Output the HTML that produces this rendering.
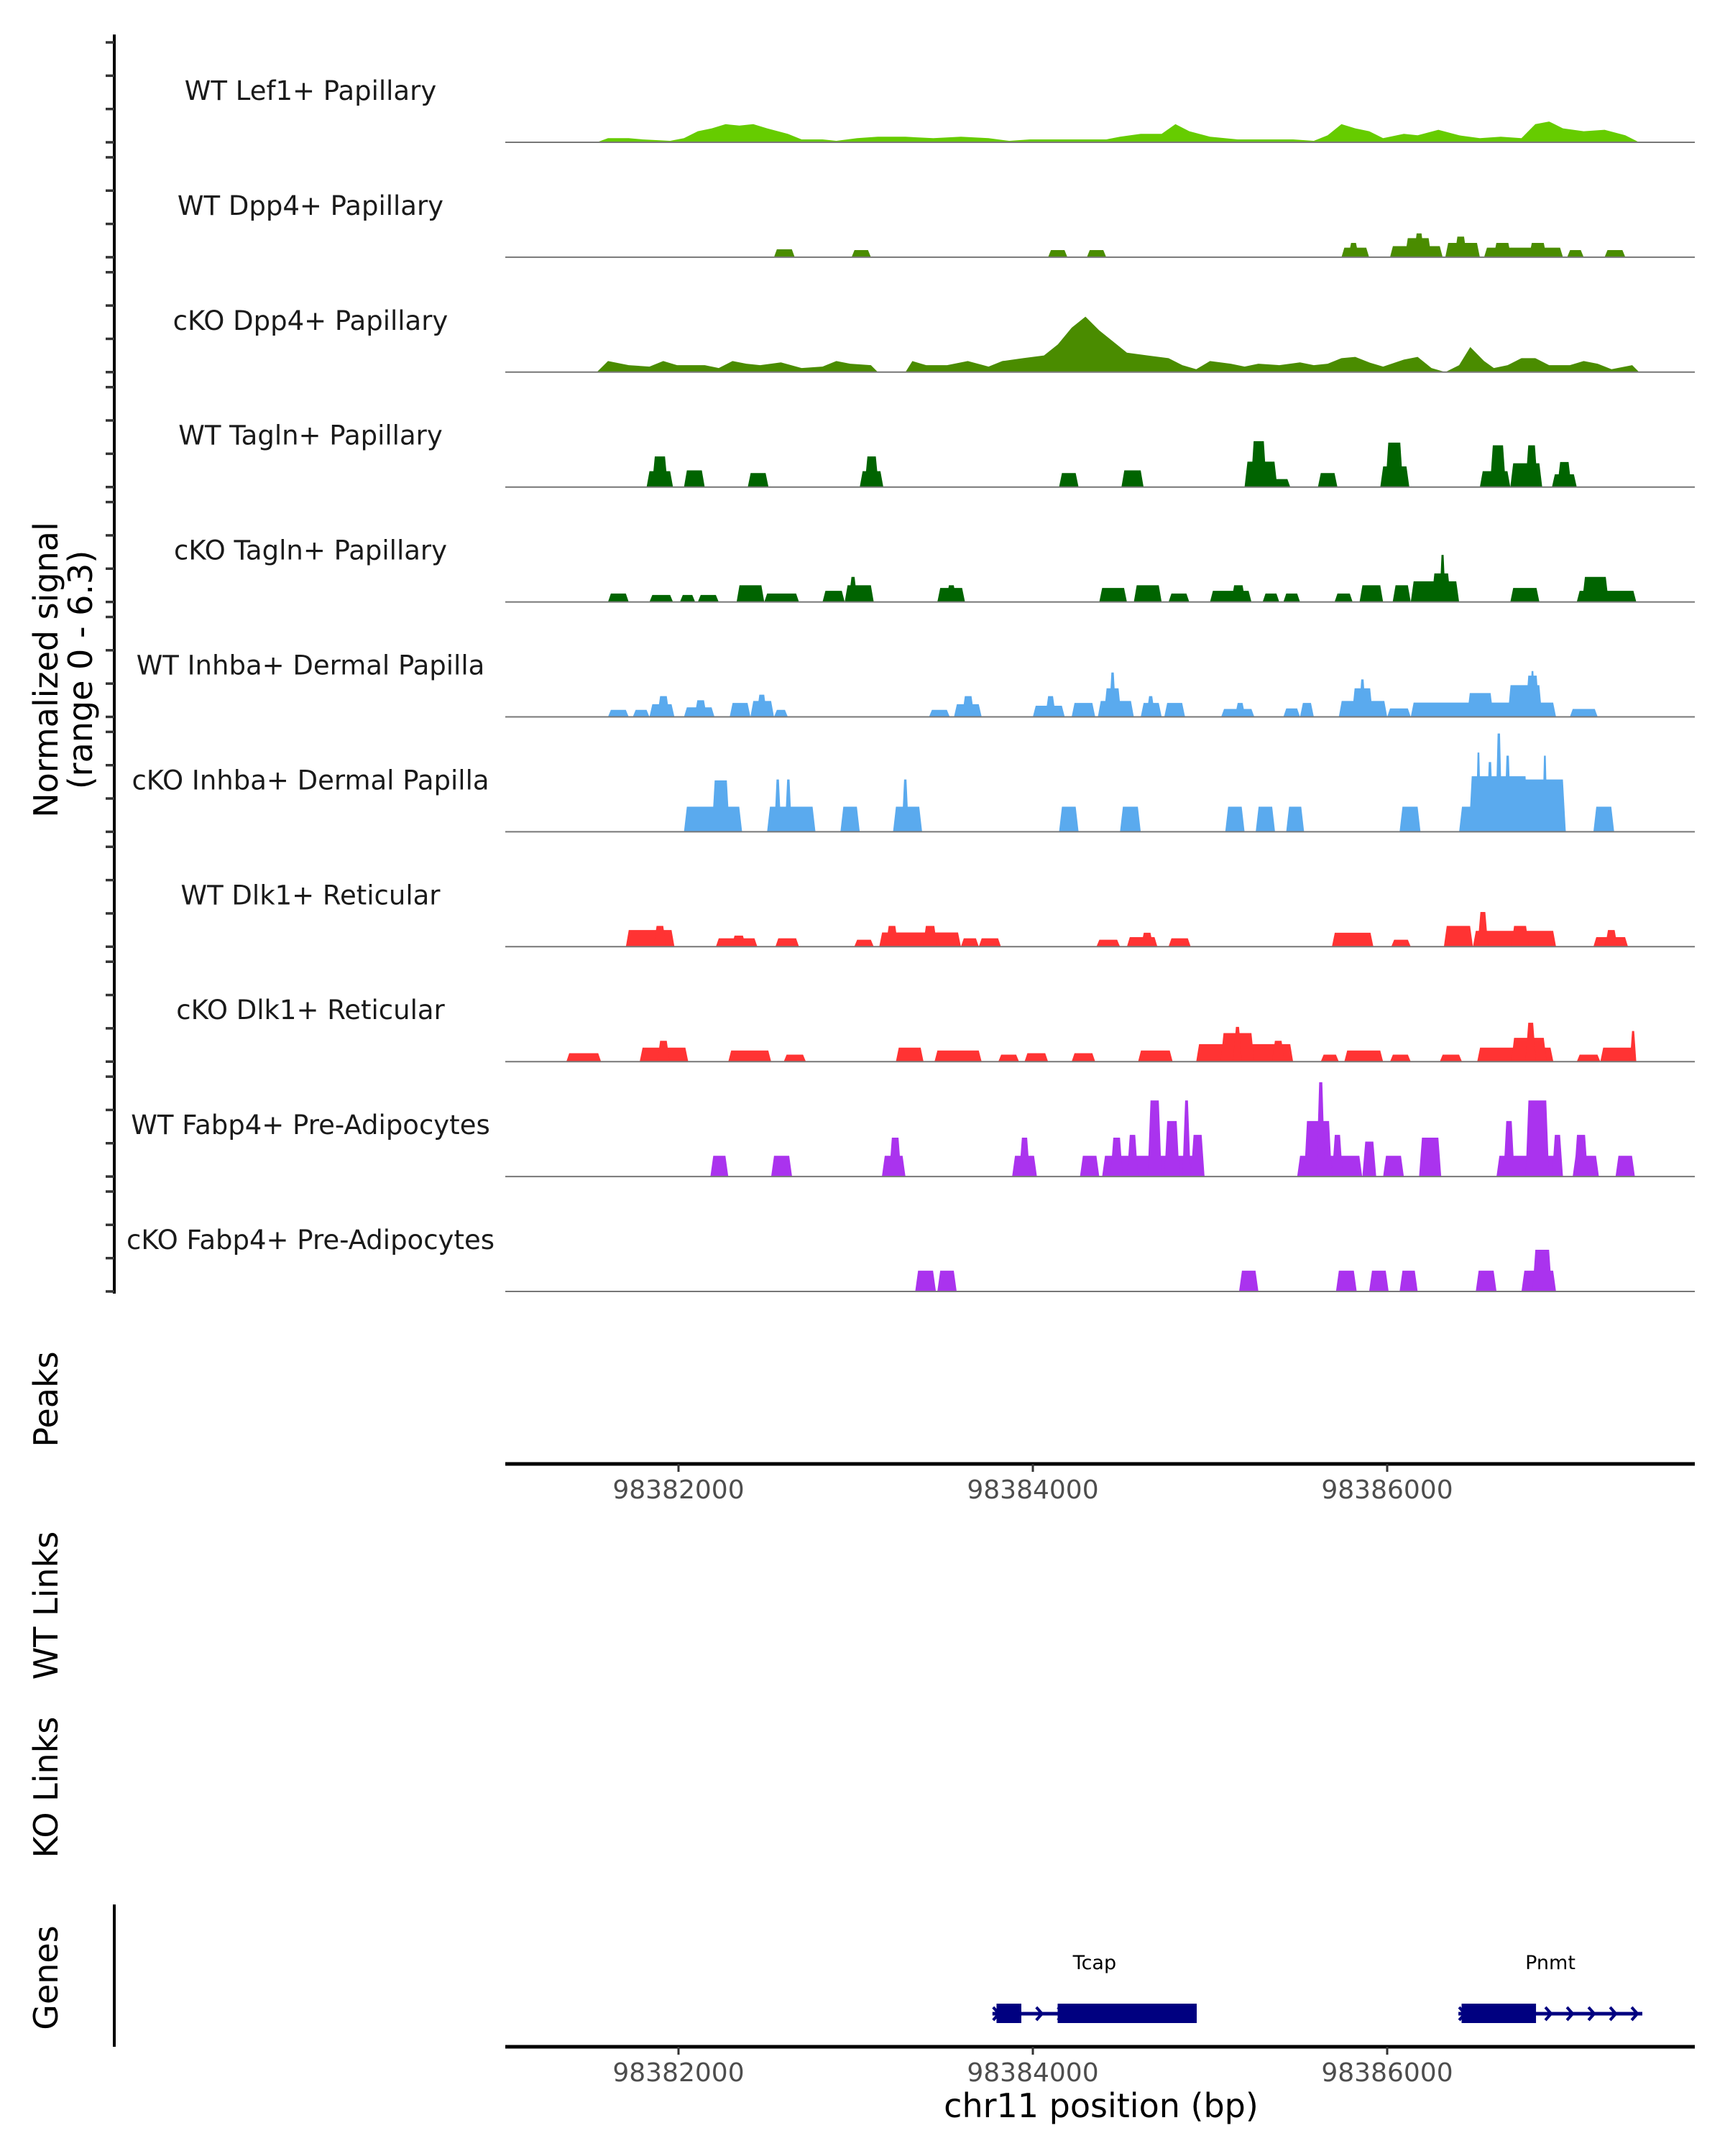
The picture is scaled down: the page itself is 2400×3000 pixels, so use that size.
<!DOCTYPE html>
<html><head><meta charset="utf-8"><style>
html,body{margin:0;padding:0;background:#fff}
svg{display:block}
text{font-family:"DejaVu Sans","Liberation Sans",sans-serif}
</style></head><body>
<svg id="chart" width="2400" height="3000" viewBox="0 0 2400 3000" xmlns="http://www.w3.org/2000/svg">
<rect x="0" y="0" width="2400" height="3000" fill="#fff"/>
<g id="tracks"></g>
<line x1="159" y1="48" x2="159" y2="1800" stroke="#000" stroke-width="4"/>
<g id="yticks"></g>
<text transform="translate(80,932) rotate(-90)" text-anchor="middle" font-size="46" fill="#000"><tspan x="0" dy="0">Normalized signal</tspan><tspan x="0" dy="48">(range 0 - 6.3)</tspan></text>
<text transform="translate(80,1947) rotate(-90)" text-anchor="middle" font-size="46" fill="#000">Peaks</text>
<text transform="translate(80,2234) rotate(-90)" text-anchor="middle" font-size="46" fill="#000">WT Links</text>
<text transform="translate(80,2487) rotate(-90)" text-anchor="middle" font-size="46" fill="#000">KO Links</text>
<text transform="translate(80,2752) rotate(-90)" text-anchor="middle" font-size="46" fill="#000">Genes</text>
<line x1="159" y1="2650" x2="159" y2="2848" stroke="#000" stroke-width="4"/>
<line x1="703" y1="2037" x2="2358" y2="2037" stroke="#000" stroke-width="5"/>
<line x1="703" y1="2848" x2="2358" y2="2848" stroke="#000" stroke-width="5"/>
<g id="xaxes"></g>
<g id="genes"></g>
<text x="1532" y="2946" text-anchor="middle" font-size="46" fill="#000">chr11 position (bp)</text>
</svg>
<script>
// region / axis data
const regionStart = 98381000; // offsets below are bp past this position
const xTicks = [98382000, 98384000, 98386000];
const yMax = 6.3;
const trackNames = ["WT Lef1+ Papillary","WT Dpp4+ Papillary","cKO Dpp4+ Papillary","WT Tagln+ Papillary","cKO Tagln+ Papillary","WT Inhba+ Dermal Papilla","cKO Inhba+ Dermal Papilla","WT Dlk1+ Reticular","cKO Dlk1+ Reticular","WT Fabp4+ Pre-Adipocytes","cKO Fabp4+ Pre-Adipocytes"];
const trackColors = ["#66cc00","#4a8c00","#4a8c00","#006400","#006400","#5aaaee","#5aaaee","#ff3333","#ff3333","#aa33ee","#aa33ee"];
// profile tracks: [offset, signal]
const lef1WT = [[539,0],[602,.26],[719,.26],[797,.18],[953,.09],[1031,.26],[1109,.7],[1188,.88],[1266,1.14],[1344,1.05],[1422,1.14],[1500,.88],[1617,.53],[1695,.18],[1813,.18],[1891,.09],[2008,.26],[2125,.35],[2281,.35],[2438,.26],[2594,.35],[2750,.26],[2867,.09],[2984,.18],[3141,.18],[3297,.18],[3414,.18],[3492,.35],[3609,.53],[3727,.53],[3805,1.14],[3883,.7],[4000,.35],[4156,.18],[4313,.18],[4469,.18],[4586,.09],[4664,.44],[4742,1.14],[4820,.88],[4898,.7],[4977,.26],[5094,.53],[5172,.44],[5289,.79],[5406,.44],[5523,.26],[5641,.35],[5758,.26],[5836,1.14],[5914,1.31],[5992,.88],[6109,.7],[6227,.79],[6344,.44],[6422,0]];
const dpp4KO = [[539,0],[602,.7],[719,.44],[836,.35],[914,.7],[992,.44],[1070,.44],[1148,.44],[1227,.26],[1305,.7],[1383,.53],[1461,.44],[1578,.61],[1695,.26],[1813,.35],[1891,.7],[1969,.53],[2086,.44],[2125,0],[2281,0],[2320,.7],[2398,.44],[2516,.44],[2633,.7],[2750,.35],[2828,.7],[2945,.88],[3063,1.05],[3141,1.75],[3219,2.8],[3297,3.5],[3375,2.63],[3453,1.93],[3531,1.23],[3648,1.05],[3766,.88],[3844,.44],[3922,.18],[4000,.7],[4117,.53],[4195,.35],[4273,.53],[4391,.44],[4508,.61],[4586,.44],[4664,.53],[4742,.88],[4820,.96],[4898,.61],[4977,.35],[5094,.79],[5172,.96],[5250,.26],[5328,0],[5406,.44],[5469,1.58],[5547,.7],[5602,.26],[5680,.44],[5758,.88],[5836,.88],[5914,.44],[6031,.44],[6109,.7],[6188,.53],[6266,.18],[6383,.44],[6422,0]];
// block tracks: [startOffset, endOffset, signal]
const dpp4WT = [[1539,1656,.5],[1977,2086,.45],[3086,3195,.45],[3305,3414,.45],[4742,4898,.6],[4780,4840,.9],[5016,5313,.7],[5100,5250,1.2],[5150,5210,1.5],[5328,5523,.9],[5380,5450,1.3],[5547,5992,.6],[5600,5700,.9],[5800,5900,.9],[6016,6109,.45],[6227,6344,.45]];
const taglnWT = [[820,969,1.0],[850,940,1.93],[1031,1148,1.05],[1391,1508,.88],[2023,2156,1.0],[2050,2130,1.93],[3148,3258,.88],[3500,3625,1.05],[4195,4453,.5],[4195,4380,1.6],[4230,4320,2.89],[4609,4719,.88],[4961,5125,1.3],[4990,5090,2.8],[5523,5695,1.0],[5580,5670,2.63],[5695,5875,1.5],[5780,5850,2.63],[5930,6070,.8],[5960,6040,1.58]];
const taglnKO = [[602,719,.53],[836,969,.44],[1008,1094,.44],[1109,1227,.44],[1328,1484,1.05],[1484,1680,.53],[1813,1938,.7],[1938,2102,1.05],[1960,2010,1.58],[2461,2617,.88],[2510,2570,1.05],[3375,3531,.88],[3570,3727,1.05],[3766,3883,.53],[4000,4234,.7],[4120,4200,1.05],[4297,4391,.53],[4414,4508,.53],[4703,4805,.53],[4844,4977,1.05],[5031,5133,1.05],[5133,5406,1.3],[5250,5360,1.8],[5295,5330,2.97],[5695,5859,.88],[6070,6406,.7],[6100,6250,1.58]];
const inhbaWT = [[602,719,.44],[742,836,.44],[836,977,.8],[880,950,1.31],[1031,1203,.6],[1090,1160,1.05],[1289,1406,.88],[1406,1539,1.0],[1440,1500,1.4],[1539,1617,.44],[2414,2531,.44],[2555,2711,.8],[2600,2670,1.31],[3000,3180,.7],[3070,3130,1.31],[3219,3352,.88],[3367,3570,1.0],[3400,3500,1.8],[3430,3470,2.8],[3609,3727,.88],[3640,3690,1.31],[3742,3859,.88],[4063,4250,.5],[4140,4200,.88],[4414,4508,.53],[4508,4586,.88],[4727,5000,1.0],[4800,4920,1.8],[4840,4880,2.36],[5000,5133,.53],[5133,5953,.9],[5450,5600,1.5],[5680,5875,2.0],[5780,5860,2.6],[5805,5835,2.89],[6031,6188,.5]];
const inhbaKO = [[1031,1359,1.58],[1188,1289,3.24],[1500,1773,1.58],[1540,1580,3.3],[1600,1640,3.3],[1914,2023,1.58],[2211,2375,1.58],[2260,2300,3.3],[3148,3258,1.58],[3492,3609,1.58],[4086,4195,1.58],[4258,4367,1.58],[4430,4531,1.58],[5070,5188,1.58],[5406,6008,1.58],[5461,5797,3.5],[5500,5530,5.0],[5560,5600,4.4],[5610,5650,6.2],[5660,5700,4.8],[5719,6008,3.3],[5875,5905,4.8],[6164,6281,1.58]];
const dlk1WT = [[703,977,1.05],[860,930,1.31],[1211,1445,.53],[1300,1380,.7],[1547,1680,.53],[1992,2102,.44],[2133,2594,.9],[2170,2240,1.31],[2380,2460,1.31],[2594,2695,.53],[2695,2820,.53],[3359,3492,.44],[3531,3703,.6],[3610,3680,.88],[3766,3891,.53],[4688,4922,.88],[5023,5133,.44],[5320,5484,1.31],[5484,5953,1.0],[5510,5570,2.19],[5700,5800,1.31],[6164,6359,.6],[6230,6300,1.05]];
const dlk1KO = [[367,563,.53],[781,1055,.88],[880,950,1.31],[1281,1523,.7],[1594,1719,.44],[2227,2383,.88],[2445,2711,.7],[2805,2922,.44],[2953,3086,.53],[3219,3352,.53],[3594,3789,.7],[3922,4469,1.1],[4060,4250,1.8],[4130,4180,2.19],[4350,4420,1.31],[4625,4727,.44],[4758,4977,.7],[5016,5133,.44],[5297,5422,.44],[5508,5938,.88],[5700,5900,1.5],[5780,5840,2.45],[6070,6203,.44],[6203,6406,.88],[6370,6406,1.93]];
const fabp4WT = [[1180,1281,1.31],[1523,1641,1.31],[2148,2281,1.31],[2188,2258,2.45],[2883,3023,1.31],[2922,2984,2.45],[3266,3375,1.31],[3391,3969,1.31],[3438,3508,2.45],[3531,3594,2.63],[3648,3727,4.8],[3742,3828,3.5],[3844,3891,4.8],[3891,3969,2.63],[4492,4859,1.31],[4531,4688,3.5],[4600,4650,5.95],[4688,4750,2.63],[4860,4938,2.2],[4977,5094,1.31],[5180,5305,2.45],[5617,5992,1.31],[5656,5719,3.5],[5781,5914,4.8],[5930,5992,2.63],[6047,6195,1.31],[6055,6133,2.63],[6289,6398,1.31]];
const fabp4KO = [[2336,2453,1.31],[2461,2570,1.31],[4164,4273,1.31],[4711,4828,1.31],[4898,5008,1.31],[5070,5172,1.31],[5500,5617,1.31],[5758,5953,1.31],[5820,5930,2.63]];
// genes: absolute bp
const geneNames = ["Tcap","Pnmt"];
const geneStarts = [98383772, 98386402];
const geneEnds = [98384925, 98387440];
const geneExons = [[[98383795,98383935],[98384140,98384925]],[[98386420,98386840]]];
const geneStrand = [1, 1];
</script>
<script>
const NS = "http://www.w3.org/2000/svg";
const X0 = 703, X1 = 2358;
function xScale(bp){ return 1437 + (bp - 98384000) * 0.2465; }
function xOff(off){ return xScale(regionStart + off); }
const panelH = 139;
function baseY(i){ return 198 + i * 159.9; }
function yScale(i, v){ return baseY(i) - Math.min(v, yMax) / yMax * panelH; }
function mk(tag, attrs, parent){
  const e = document.createElementNS(NS, tag);
  for (const k in attrs) e.setAttribute(k, attrs[k]);
  parent.appendChild(e); return e;
}
const tracksG = document.getElementById('tracks');
const yt = document.getElementById('yticks');
const trackData = [lef1WT, dpp4WT, dpp4KO, taglnWT, taglnKO, inhbaWT, inhbaKO, dlk1WT, dlk1KO, fabp4WT, fabp4KO];
const profileTracks = [0, 2];
trackNames.forEach((name, i) => {
  const g = mk('g', {}, tracksG);
  
  
  const by = baseY(i);
  const data = trackData[i];
  if (profileTracks.includes(i)) {
    let d = 'M' + xOff(data[0][0]) + ',' + by;
    data.forEach(p => { d += ' L' + xOff(p[0]).toFixed(1) + ',' + yScale(i, p[1]).toFixed(1); });
    d += ' L' + xOff(data[data.length - 1][0]) + ',' + by + ' Z';
    const a = mk('path', {d: d, fill: trackColors[i]}, g);
    
    
  } else {
    data.forEach(b => {
      const xa = xOff(b[0]), xb = xOff(b[1]), yy = yScale(i, b[2]);
      const r = Math.min(4, (xb - xa) / 3);
      const p = mk('polygon', {points: `${xa},${by} ${xa + r},${yy} ${xb - r},${yy} ${xb},${by}`, fill: trackColors[i]}, g);
      
      
    });
  }
  const bl = mk('line', {x1: X0, x2: X1, y1: by, y2: by, stroke: '#777', 'stroke-width': 2}, g);
  
  
  const t = mk('text', {x: 432, y: by - 59, 'text-anchor': 'middle', 'font-size': 37, fill: '#1a1a1a'}, g);
  t.textContent = name;
  
  
  for (let k = 0; k < 4; k++) {
    const ty = by - k * panelH / 3;
    const tk = mk('line', {x1: 147, x2: 159, y1: ty, y2: ty, stroke: '#333', 'stroke-width': 3.5}, yt);
    
    
  }
});
const xa = document.getElementById('xaxes');
[[2037, 2072], [2848, 2883]].forEach(ax => {
  xTicks.forEach(v => {
    const x = xScale(v);
    const l = mk('line', {x1: x, x2: x, y1: ax[0], y2: ax[0] + 11, stroke: '#333', 'stroke-width': 3}, xa);
    
    
    const t = mk('text', {x: x, y: ax[1] + 13, 'text-anchor': 'middle', 'font-size': 36, fill: '#4d4d4d'}, xa);
    t.textContent = String(v);
    
    
  });
});
const gg = document.getElementById('genes');
const gy = 2802;
geneNames.forEach((n, i) => {
  const g = mk('g', {}, gg);
  
  
  const xs = xScale(geneStarts[i]), xe = xScale(geneEnds[i]);
  mk('line', {x1: xs, x2: xe, y1: gy, y2: gy, stroke: '#000080', 'stroke-width': 5}, g);
  for (let x = xs + 6; x < xe; x += 30) {
    mk('polyline', {points: `${x - 5},${gy - 9} ${x + 3},${gy} ${x - 5},${gy + 9}`, fill: 'none', stroke: '#000080', 'stroke-width': 4}, g);
  }
  geneExons[i].forEach(e => {
    const r = mk('rect', {x: xScale(e[0]), y: gy - 14, width: xScale(e[1]) - xScale(e[0]), height: 27, fill: '#000080'}, g);
    
    
  });
  const t = mk('text', {x: (xs + xe) / 2, y: 2740, 'text-anchor': 'middle', 'font-size': 27, fill: '#000'}, g);
  t.textContent = n;
  
  
});
</script>
</body></html>
